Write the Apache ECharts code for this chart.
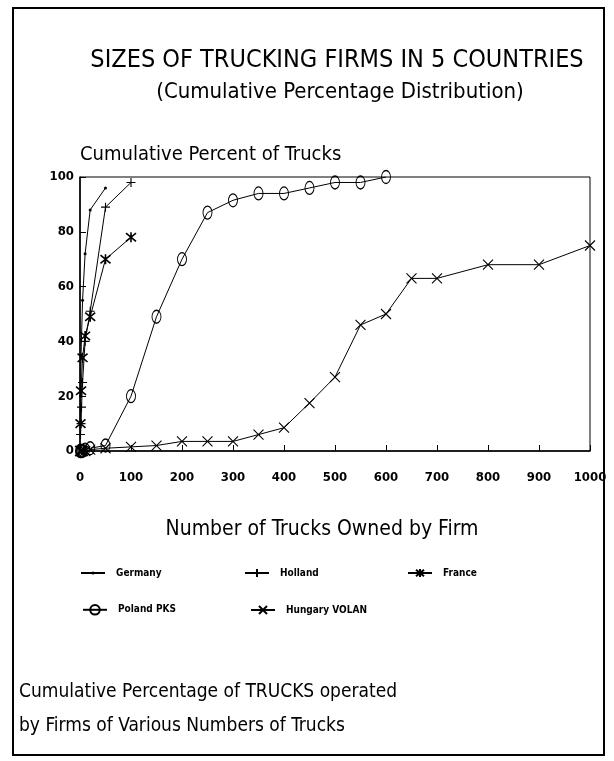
<!DOCTYPE html>
<html>
<head>
<meta charset="utf-8">
<script src="https://cdn.jsdelivr.net/npm/echarts@6/dist/echarts.min.js"></script>
<style>
html, body { margin: 0; padding: 0; background: #fff; }
#main { width: 614px; height: 761px; }
</style>
</head>
<body>
<div id="main"></div>
<script>
// valores (numero de camiones, % acumulado)
var germanyX = [1, 2, 5, 10, 20, 50];
var germanyY = [20, 35, 55, 72, 88, 96];

var hollandX = [1, 2, 3, 5, 10, 20, 50, 100];
var hollandY = [6, 10, 16, 25, 40, 51, 89, 98];

var franceX = [1, 2, 5, 10, 20, 50, 100];
var franceY = [10, 22, 34, 42, 49, 70, 78];

var polandX = [0, 1, 2, 3, 5, 10, 20, 50, 100, 150, 200, 250, 300, 350, 400, 450, 500, 550, 600];
var polandY = [0, 0, 0, 0, 0, 0.5, 1, 2, 20, 49, 70, 87, 91.5, 94, 94, 96, 98, 98, 100];

var hungaryX = [0, 1, 2, 3, 5, 10, 20, 50, 100, 150, 200, 250, 300, 350, 400, 450, 500, 550, 600, 650, 700, 800, 900, 1000];
var hungaryY = [0, 0, 0, 0, 0, 0, 0.5, 1, 1.5, 2, 3.5, 3.5, 3.5, 6, 8.5, 17.5, 27, 46, 50, 63, 63, 68, 68, 75];

var seriesNames = ['Germany', 'Holland', 'France', 'Poland PKS', 'Hungary VOLAN'];

var FONT = '"DejaVu Sans Condensed", "Liberation Sans Narrow", "DejaVu Sans", sans-serif';

function pares(xs, ys) {
    var out = [];
    for (var i = 0; i < xs.length; i++) {
        out.push([xs[i], ys[i]]);
    }
    return out;
}

var simbolos = {
    punto: 'circle',
    cruz: 'path://M5,0L5,10M0,5L10,5',
    asterisco: 'path://M0,0L10,10M10,0L0,10M5,-1L5,11',
    equis: 'path://M0,0L10,10M10,0L0,10',
    ovalo: 'path://M5,0A5,5 0 1,1 5,10A5,5 0 1,1 5,0Z'
};

function serie(nombre, datos, simbolo, tam, borde, relleno) {
    return {
        name: nombre,
        type: 'line',
        data: datos,
        symbol: simbolo,
        symbolSize: tam,
        showAllSymbol: true,
        animation: false,
        lineStyle: { color: '#000', width: 1 },
        itemStyle: { color: relleno || '#000', borderColor: '#000', borderWidth: borde }
    };
}

var dom = document.getElementById('main');
var myChart = echarts.init(dom, null, { renderer: 'canvas' });

function leyenda(nombre, x, y, alto) {
    return {
        data: [nombre],
        left: x,
        top: y,
        itemWidth: 24,
        itemHeight: alto,
        padding: 0,
        selectedMode: false,
        textStyle: { fontSize: 10, fontWeight: 'bold', fontFamily: FONT, color: '#000', padding: [0, 0, 0, 6] }
    };
}

function texto(t, x, y, size, align) {
    return {
        type: 'text',
        x: x,
        y: y,
        style: {
            text: t,
            font: size + 'px ' + FONT,
            fill: '#000',
            textAlign: align,
            textVerticalAlign: 'middle'
        }
    };
}

var option = {
    backgroundColor: '#fff',
    animation: false,
    grid: {
        left: 80,
        top: 177,
        right: 24,
        bottom: 310,
        show: true,
        borderColor: '#000',
        borderWidth: 1
    },
    xAxis: {
        type: 'value',
        min: 0,
        max: 1000,
        interval: 100,
        name: 'Number of Trucks Owned by Firm',
        nameLocation: 'middle',
        nameGap: 68,
        nameTextStyle: { fontSize: 21, fontFamily: FONT, color: '#000', padding: [0, 26, 0, 0] },
        axisLine: { lineStyle: { color: '#000', width: 1.5 } },
        axisTick: { inside: true, length: 6, lineStyle: { color: '#000' } },
        axisLabel: {
            fontSize: 13, fontWeight: 'bold', fontFamily: FONT, color: '#000', margin: 20,
            formatter: function (v) { return String(v); }
        },
        splitLine: { show: false }
    },
    yAxis: {
        type: 'value',
        min: 0,
        max: 100,
        interval: 20,
        name: 'Cumulative Percent of Trucks',
        nameLocation: 'end',
        nameGap: 22,
        nameTextStyle: { fontSize: 20, fontFamily: FONT, color: '#000', align: 'left', verticalAlign: 'middle' },
        axisLine: { lineStyle: { color: '#000', width: 1.5 } },
        axisTick: { inside: true, length: 6, lineStyle: { color: '#000' } },
        axisLabel: { fontSize: 13, fontWeight: 'bold', fontFamily: FONT, color: '#000', margin: 6 },
        splitLine: { show: false }
    },
    legend: [
        leyenda(seriesNames[0], 80, 568, 4),
        leyenda(seriesNames[1], 244, 568, 10),
        leyenda(seriesNames[2], 407, 568, 10),
        leyenda(seriesNames[3], 82, 604, 12),
        leyenda(seriesNames[4], 250, 605, 10)
    ],
    series: [
        serie(seriesNames[0], pares(germanyX, germanyY), simbolos.punto, 3, 0),
        serie(seriesNames[1], pares(hollandX, hollandY), simbolos.cruz, 9, 1.1),
        serie(seriesNames[2], pares(franceX, franceY), simbolos.asterisco, 10, 1.6),
        serie(seriesNames[3], pares(polandX, polandY), simbolos.ovalo, [9, 13], 1.1, 'rgba(0,0,0,0)'),
        serie(seriesNames[4], pares(hungaryX, hungaryY), simbolos.equis, 10, 1.1)
    ],
    graphic: [
        {
            type: 'rect',
            shape: { x: 13, y: 8, width: 591, height: 747 },
            style: { fill: 'none', stroke: '#000', lineWidth: 2 },
            silent: true
        },
        texto('SIZES OF TRUCKING FIRMS IN 5 COUNTRIES', 337, 60, 25, 'center'),
        texto('(Cumulative Percentage Distribution)', 340, 92, 22, 'center'),
        texto('Cumulative Percentage of TRUCKS operated', 19, 692, 19, 'left'),
        texto('by Firms of Various Numbers of Trucks', 19, 726, 19, 'left')
    ]
};

myChart.setOption(option);
window.addEventListener('resize', myChart.resize);
</script>
</body>
</html>
